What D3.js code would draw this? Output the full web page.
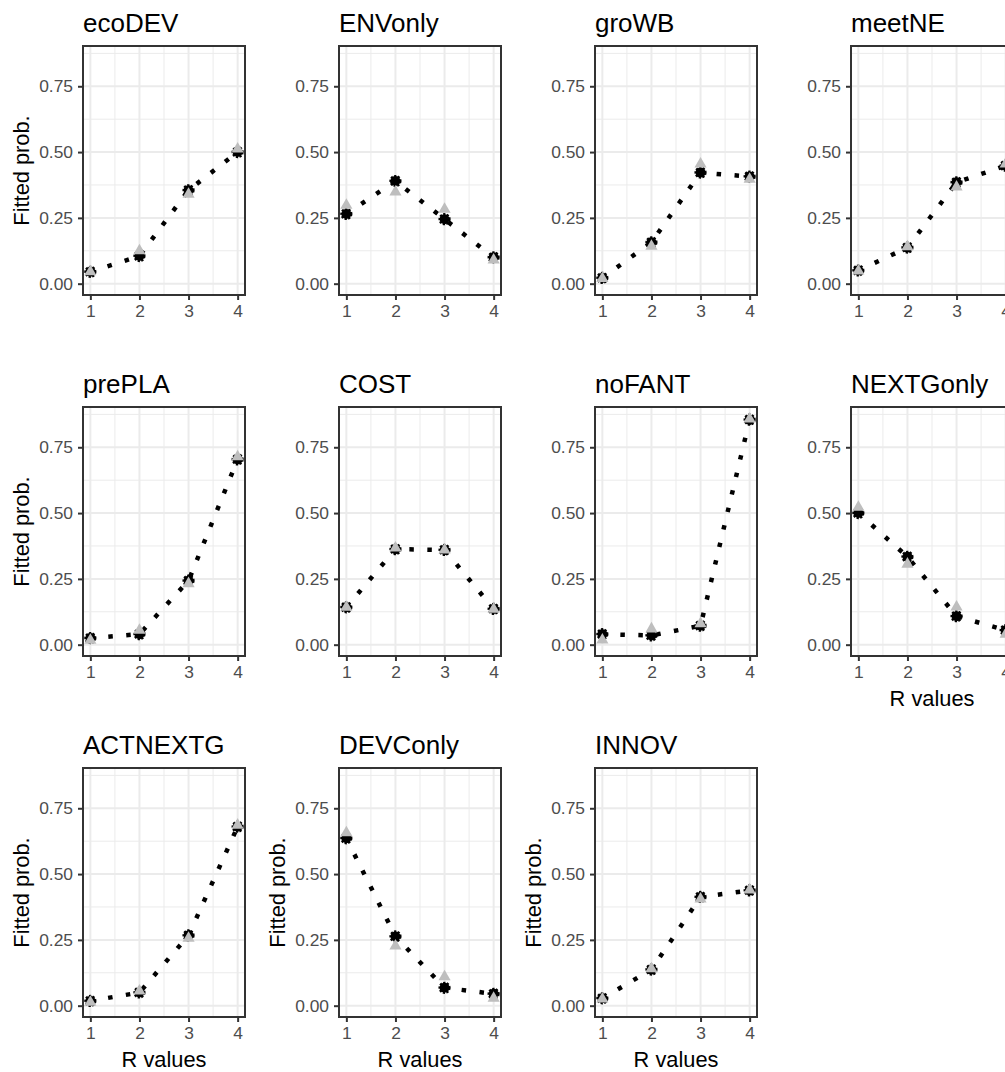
<!DOCTYPE html>
<html>
<head>
<meta charset="utf-8">
<script src="https://cdnjs.cloudflare.com/ajax/libs/d3/7.8.5/d3.min.js"></script>
<style>
  body { margin: 0; background: #fff; }
  text { font-family: "Liberation Sans", Arial, sans-serif; }
</style>
</head>
<body>
<div id="chart"></div>
<script>
// panel titles, in reading order
const panelNames = [
  "ecoDEV", "ENVonly", "groWB", "meetNE",
  "prePLA", "COST", "noFANT", "NEXTGonly",
  "ACTNEXTG", "DEVConly", "INNOV"
];
const rValues = [1, 2, 3, 4];
const yTicks = [0, 0.25, 0.5, 0.75];
const yTickLabels = ["0.00", "0.25", "0.50", "0.75"];

// fitted probabilities (black points + dotted line)
const fitted = [
  [0.045, 0.105, 0.355, 0.5],
  [0.265, 0.39, 0.245, 0.1],
  [0.022, 0.157, 0.422, 0.407],
  [0.05, 0.137, 0.385, 0.448],
  [0.025, 0.04, 0.243, 0.704],
  [0.142, 0.363, 0.36, 0.136],
  [0.04, 0.035, 0.072, 0.855],
  [0.5, 0.334, 0.108, 0.055],
  [0.018, 0.05, 0.267, 0.68],
  [0.636, 0.263, 0.068, 0.045],
  [0.028, 0.137, 0.413, 0.438]
];

// observed proportions (grey triangles)
const observed = [
  [0.045, 0.125, 0.34, 0.512],
  [0.298, 0.348, 0.283, 0.09],
  [0.02, 0.142, 0.455, 0.397],
  [0.048, 0.14, 0.367, 0.455],
  [0.017, 0.055, 0.232, 0.714],
  [0.142, 0.367, 0.36, 0.135],
  [0.018, 0.06, 0.08, 0.857],
  [0.522, 0.306, 0.143, 0.04],
  [0.013, 0.056, 0.256, 0.686],
  [0.657, 0.227, 0.11, 0.028],
  [0.025, 0.14, 0.405, 0.44]
];

const width = 1005,
  height = 1072,
  colStep = 256,
  rowTops = [46, 407, 768],
  panelLeft = 83,
  panelW = 162,
  panelH = 249;

const svg = d3
  .select("#chart")
  .append("svg")
  .attr("width", width)
  .attr("height", height);

svg.append("rect").attr("width", width).attr("height", height).attr("fill", "#fff");

const x = d3.scaleLinear().domain([0.85, 4.15]).range([0, panelW]);
const y = d3.scaleLinear().domain([-0.043, 0.903]).range([panelH, 0]);

const drawPanel = (i) => {
  const col = i % 4,
    row = Math.floor(i / 4);
  const g = svg
    .append("g")
    .attr("transform", `translate(${col * colStep + panelLeft},${rowTops[row]})`);

  // grid, minor first
  const minorX = [1.5, 2.5, 3.5],
    minorY = [0.125, 0.375, 0.625, 0.875];
  g.selectAll(".minx").data(minorX).enter().append("line")
    .attr("x1", d => x(d)).attr("x2", d => x(d))
    .attr("y1", 0).attr("y2", panelH)
    .attr("stroke", "#ebebeb").attr("stroke-width", 1);
  g.selectAll(".miny").data(minorY).enter().append("line")
    .attr("y1", d => y(d)).attr("y2", d => y(d))
    .attr("x1", 0).attr("x2", panelW)
    .attr("stroke", "#ebebeb").attr("stroke-width", 1);
  g.selectAll(".majx").data(rValues).enter().append("line")
    .attr("x1", d => x(d)).attr("x2", d => x(d))
    .attr("y1", 0).attr("y2", panelH)
    .attr("stroke", "#ebebeb").attr("stroke-width", 2);
  g.selectAll(".majy").data(yTicks).enter().append("line")
    .attr("y1", d => y(d)).attr("y2", d => y(d))
    .attr("x1", 0).attr("x2", panelW)
    .attr("stroke", "#ebebeb").attr("stroke-width", 2);

  const pts = rValues.map((r, k) => ({ r: r, f: fitted[i][k], o: observed[i][k] }));

  // dotted fitted line
  g.append("path")
    .datum(pts)
    .attr("d", d3.line().x(d => x(d.r)).y(d => y(d.f)))
    .attr("fill", "none")
    .attr("stroke", "#000")
    .attr("stroke-width", 4.5)
    .attr("stroke-dasharray", "4.5 13.5");

  // fitted points, bumpy dotted outline like the R device
  g.selectAll(".fit").data(pts).enter().append("circle")
    .attr("cx", d => x(d.r)).attr("cy", d => y(d.f))
    .attr("r", 5)
    .attr("fill", "#000")
    .attr("stroke", "#000")
    .attr("stroke-width", 2.2)
    .attr("stroke-dasharray", "2.2 1.4");

  // observed points
  const tri = d3.symbol().type(d3.symbolTriangle).size(64);
  g.selectAll(".obs").data(pts).enter().append("path")
    .attr("d", tri)
    .attr("transform", d => `translate(${x(d.r)},${y(d.o)})`)
    .attr("fill", "#bebebe");

  // panel border
  g.append("rect")
    .attr("width", panelW).attr("height", panelH)
    .attr("fill", "none").attr("stroke", "#333").attr("stroke-width", 2);

  // y axis
  const yAxis = g.append("g")
    .call(d3.axisLeft(y).tickValues(yTicks).tickSize(5).tickPadding(5)
      .tickFormat((d, k) => yTickLabels[k]));
  yAxis.select(".domain").remove();
  yAxis.selectAll("line").attr("stroke", "#333").attr("stroke-width", 2);
  yAxis.selectAll("text")
    .attr("fill", "#4d4d4d").style("font-size", "17.4px")
    .attr("font-family", "Liberation Sans, Arial, sans-serif");

  // x axis
  const xAxis = g.append("g")
    .attr("transform", `translate(0,${panelH})`)
    .call(d3.axisBottom(x).tickValues(rValues).tickSize(5).tickPadding(5)
      .tickFormat(d3.format("d")));
  xAxis.select(".domain").remove();
  xAxis.selectAll("line").attr("stroke", "#333").attr("stroke-width", 2);
  xAxis.selectAll("text")
    .attr("fill", "#4d4d4d").style("font-size", "17.4px")
    .attr("font-family", "Liberation Sans, Arial, sans-serif");

  // title
  g.append("text")
    .attr("x", 0).attr("y", -14)
    .style("font-size", "26px")
    .attr("fill", "#000")
    .text(panelNames[i]);

  // axis titles
  if (col === 0 || row === 2) {
    g.append("text")
      .attr("transform", `translate(${-54},${panelH / 2}) rotate(-90)`)
      .attr("text-anchor", "middle")
      .style("font-size", "21.8px")
      .text("Fitted prob.");
  }
  if (row === 2 || i === 7) {
    g.append("text")
      .attr("x", panelW / 2).attr("y", panelH + 50)
      .attr("text-anchor", "middle")
      .style("font-size", "21.8px")
      .text("R values");
  }
};

panelNames.forEach((n, i) => drawPanel(i));
</script>
</body>
</html>
